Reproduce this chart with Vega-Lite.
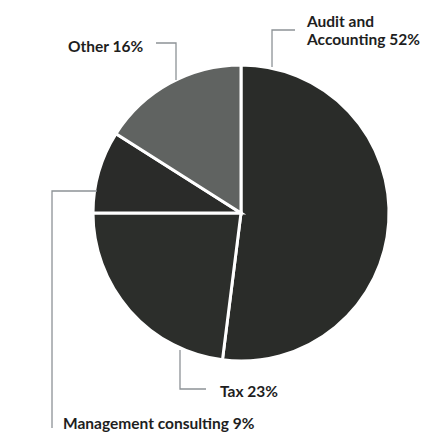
{
  "$schema": "https://vega.github.io/schema/vega-lite/v6.json",
  "width": 430,
  "height": 446,
  "padding": 0,
  "autosize": {"type": "none"},
  "background": "#ffffff",
  "view": {"stroke": null},
  "datasets": {
    "slices": [
      {"category": "Audit and Accounting", "share": 52, "rank": 1},
      {"category": "Tax", "share": 23, "rank": 2},
      {"category": "Management consulting", "share": 9, "rank": 3},
      {"category": "Other", "share": 16, "rank": 4}
    ],
    "leaders": [
      {"category": "Audit and Accounting", "seq": 1, "u": 0.2095, "v": 0.9865},
      {"category": "Audit and Accounting", "seq": 2, "u": 0.2095, "v": 1.2365},
      {"category": "Audit and Accounting", "seq": 3, "u": 0.3649, "v": 1.2365},
      {"category": "Other", "seq": 1, "u": -0.5743, "v": 1.1486},
      {"category": "Other", "seq": 2, "u": -0.4392, "v": 1.1486},
      {"category": "Other", "seq": 3, "u": -0.4392, "v": 0.8986},
      {"category": "Tax", "seq": 1, "u": -0.4122, "v": -0.9257},
      {"category": "Tax", "seq": 2, "u": -0.4122, "v": -1.1892},
      {"category": "Tax", "seq": 3, "u": -0.2365, "v": -1.1892},
      {"category": "Management consulting", "seq": 1, "u": -0.9730, "v": 0.1486},
      {"category": "Management consulting", "seq": 2, "u": -1.2770, "v": 0.1486},
      {"category": "Management consulting", "seq": 3, "u": -1.2770, "v": -1.4527}
    ],
    "labels": [
      {"text": ["Audit and", "Accounting 52%"], "u": 0.4459, "v": 1.2534},
      {"text": ["Other 16%"], "u": -1.1689, "v": 1.0878},
      {"text": ["Tax 23%"], "u": -0.1419, "v": -1.2432},
      {"text": ["Management consulting 9%"], "u": -1.2027, "v": -1.4595}
    ]
  },
  "layer": [
    {
      "data": {"name": "slices"},
      "mark": {"type": "arc", "outerRadius": 148, "stroke": "#ffffff", "strokeWidth": 3},
      "encoding": {
        "x": {"datum": 0, "type": "quantitative", "scale": {"domain": [-1.6284, 1.2770], "nice": false, "zero": false}, "axis": null},
        "y": {"datum": 0, "type": "quantitative", "scale": {"domain": [-1.5743, 1.4392], "nice": false, "zero": false}, "axis": null},
        "theta": {"field": "share", "type": "quantitative", "stack": true},
        "order": {"field": "rank", "type": "quantitative"},
        "color": {
          "field": "category",
          "type": "nominal",
          "scale": {
            "domain": ["Audit and Accounting", "Tax", "Management consulting", "Other"],
            "range": ["#2a2c29", "#2c2e2b", "#2a2b29", "#606361"]
          },
          "legend": null
        }
      }
    },
    {
      "data": {"name": "leaders"},
      "mark": {"type": "line", "color": "#8d9296", "strokeWidth": 1.3},
      "encoding": {
        "x": {"field": "u", "type": "quantitative"},
        "y": {"field": "v", "type": "quantitative"},
        "detail": {"field": "category"},
        "order": {"field": "seq", "type": "quantitative"}
      }
    },
    {
      "data": {"name": "labels"},
      "mark": {"type": "text", "align": "left", "baseline": "alphabetic", "font": "Lato", "fontSize": 15.5, "fontWeight": "bold", "lineHeight": 17.5, "color": "#1e1e1e"},
      "encoding": {
        "x": {"field": "u", "type": "quantitative"},
        "y": {"field": "v", "type": "quantitative"},
        "text": {"field": "text"}
      }
    }
  ]
}
